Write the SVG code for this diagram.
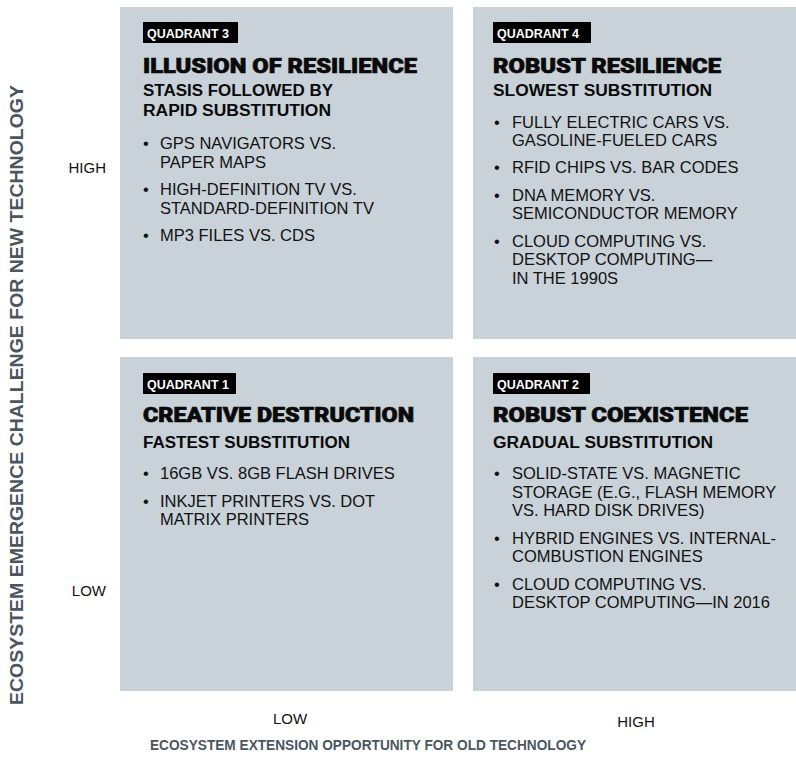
<svg xmlns="http://www.w3.org/2000/svg" width="796" height="762" viewBox="0 0 796 762">
<style>
.quad{fill:#c9d2d8}
.tag{fill:#000}
.tagt{font-family:"Liberation Sans",Arial,sans-serif;font-weight:700;font-size:12.5px;fill:#fff}
.title{font-family:Roboto,Lato,"Liberation Sans",sans-serif;font-weight:900;font-size:21px;fill:#0a0a0a;stroke:#0a0a0a;stroke-width:0.7px}
.sub{font-family:"Liberation Sans",Arial,sans-serif;font-weight:700;font-size:16px;fill:#0a0a0a}
.item{font-family:"Liberation Sans",Arial,sans-serif;font-size:16.5px;fill:#111}
.lvl{font-family:"Liberation Sans",Arial,sans-serif;font-size:15px;fill:#111}
.axis{font-family:"Liberation Sans",Arial,sans-serif;font-weight:700;fill:#4a5661}
</style>
<g id="axes">
<text class="axis" font-size="18.5" transform="translate(22.5,395) rotate(-90)" text-anchor="middle" textLength="620" lengthAdjust="spacingAndGlyphs">ECOSYSTEM EMERGENCE CHALLENGE FOR NEW TECHNOLOGY</text>
<text class="axis" font-size="14" x="368" y="750" text-anchor="middle" textLength="436" lengthAdjust="spacingAndGlyphs">ECOSYSTEM EXTENSION OPPORTUNITY FOR OLD TECHNOLOGY</text>
<text class="lvl" x="106" y="173" text-anchor="end">HIGH</text>
<text class="lvl" x="106" y="596" text-anchor="end">LOW</text>
<text class="lvl" x="290" y="724" text-anchor="middle">LOW</text>
<text class="lvl" x="636" y="727" text-anchor="middle">HIGH</text>
</g>
<g id="q3">
<rect class="quad" x="120" y="7" width="333" height="332"/>
<rect class="tag" x="143" y="22" width="95" height="21"/>
<text class="tagt" x="147" y="37.5">QUADRANT 3</text>
<text class="title" x="143" y="73" textLength="274" lengthAdjust="spacingAndGlyphs">ILLUSION OF RESILIENCE</text>
<text class="sub" x="143" y="96" textLength="190" lengthAdjust="spacingAndGlyphs">STASIS FOLLOWED BY</text>
<text class="sub" x="143" y="116" textLength="188" lengthAdjust="spacingAndGlyphs">RAPID SUBSTITUTION</text>
<text class="item" x="143" y="149">•</text>
<text class="item" x="160" y="149">GPS NAVIGATORS VS.</text>
<text class="item" x="160" y="167.5">PAPER MAPS</text>
<text class="item" x="143" y="195">•</text>
<text class="item" x="160" y="195">HIGH-DEFINITION TV VS.</text>
<text class="item" x="160" y="213.5">STANDARD-DEFINITION TV</text>
<text class="item" x="143" y="241">•</text>
<text class="item" x="160" y="241">MP3 FILES VS. CDS</text>
</g>
<g id="q4">
<rect class="quad" x="473" y="7" width="323" height="332"/>
<rect class="tag" x="493" y="22" width="98" height="21"/>
<text class="tagt" x="497" y="37.5">QUADRANT 4</text>
<text class="title" x="493" y="73" textLength="228" lengthAdjust="spacingAndGlyphs">ROBUST RESILIENCE</text>
<text class="sub" x="493" y="96" textLength="219" lengthAdjust="spacingAndGlyphs">SLOWEST SUBSTITUTION</text>
<text class="item" x="494" y="127.5">•</text>
<text class="item" x="512" y="127.5">FULLY ELECTRIC CARS VS.</text>
<text class="item" x="512" y="146">GASOLINE-FUELED CARS</text>
<text class="item" x="494" y="173">•</text>
<text class="item" x="512" y="173">RFID CHIPS VS. BAR CODES</text>
<text class="item" x="494" y="200.5">•</text>
<text class="item" x="512" y="200.5">DNA MEMORY VS.</text>
<text class="item" x="512" y="219">SEMICONDUCTOR MEMORY</text>
<text class="item" x="494" y="246.5">•</text>
<text class="item" x="512" y="246.5">CLOUD COMPUTING VS.</text>
<text class="item" x="512" y="265">DESKTOP COMPUTING—</text>
<text class="item" x="512" y="283.5">IN THE 1990S</text>
</g>
<g id="q1">
<rect class="quad" x="120" y="357" width="333" height="334"/>
<rect class="tag" x="143" y="373" width="93" height="21"/>
<text class="tagt" x="147" y="388.5">QUADRANT 1</text>
<text class="title" x="143" y="422" textLength="271" lengthAdjust="spacingAndGlyphs">CREATIVE DESTRUCTION</text>
<text class="sub" x="143" y="448" textLength="207" lengthAdjust="spacingAndGlyphs">FASTEST SUBSTITUTION</text>
<text class="item" x="143" y="479">•</text>
<text class="item" x="160" y="479">16GB VS. 8GB FLASH DRIVES</text>
<text class="item" x="143" y="506.5">•</text>
<text class="item" x="160" y="506.5">INKJET PRINTERS VS. DOT</text>
<text class="item" x="160" y="525">MATRIX PRINTERS</text>
</g>
<g id="q2">
<rect class="quad" x="473" y="357" width="323" height="334"/>
<rect class="tag" x="493" y="373" width="97" height="21"/>
<text class="tagt" x="497" y="388.5">QUADRANT 2</text>
<text class="title" x="493" y="422" textLength="255" lengthAdjust="spacingAndGlyphs">ROBUST COEXISTENCE</text>
<text class="sub" x="493" y="448" textLength="220" lengthAdjust="spacingAndGlyphs">GRADUAL SUBSTITUTION</text>
<text class="item" x="494" y="479">•</text>
<text class="item" x="512" y="479">SOLID-STATE VS. MAGNETIC</text>
<text class="item" x="512" y="497.5">STORAGE (E.G., FLASH MEMORY</text>
<text class="item" x="512" y="516">VS. HARD DISK DRIVES)</text>
<text class="item" x="494" y="543.5">•</text>
<text class="item" x="512" y="543.5">HYBRID ENGINES VS. INTERNAL-</text>
<text class="item" x="512" y="562">COMBUSTION ENGINES</text>
<text class="item" x="494" y="589.5">•</text>
<text class="item" x="512" y="589.5">CLOUD COMPUTING VS.</text>
<text class="item" x="512" y="608">DESKTOP COMPUTING—IN 2016</text>
</g>
</svg>
